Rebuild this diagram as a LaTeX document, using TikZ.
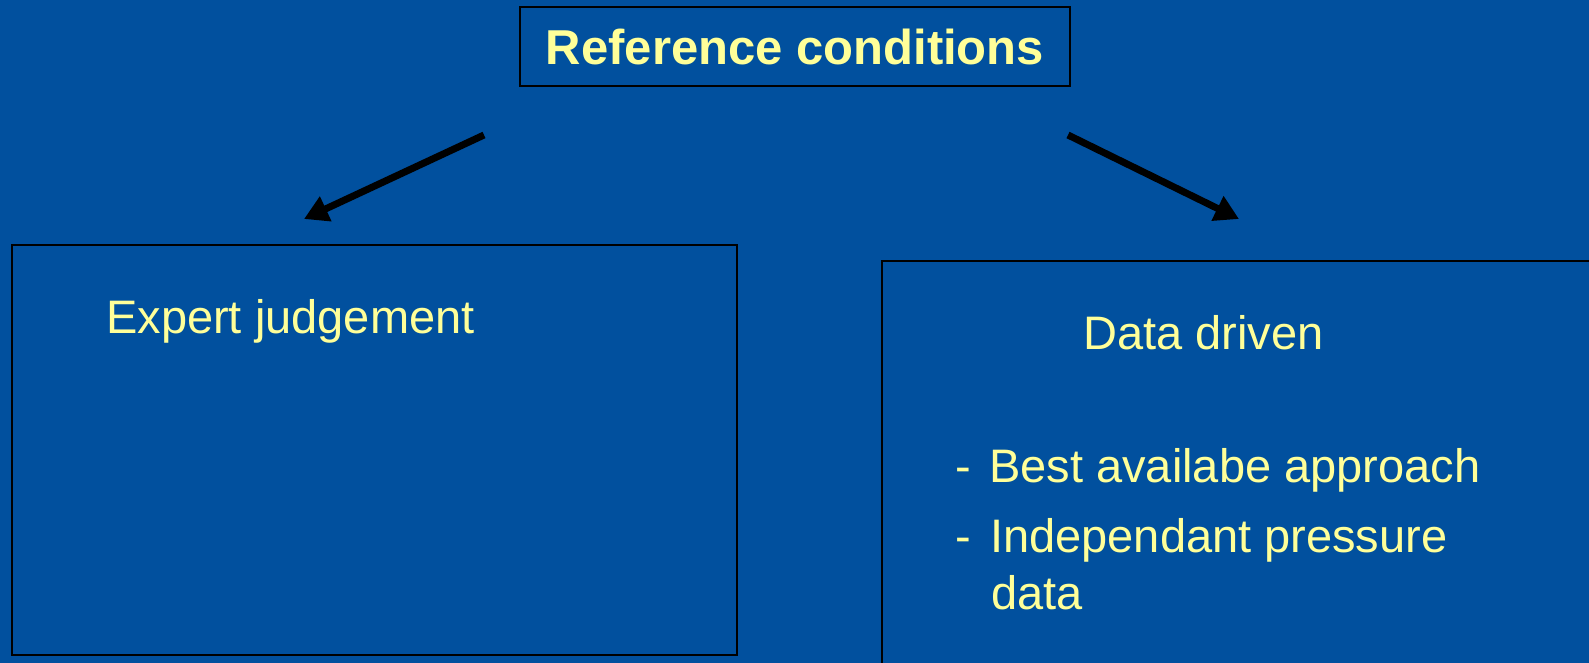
\documentclass[tikz,border=0pt]{standalone}
\usepackage{fontspec}
\setmainfont{Liberation Sans}
\usetikzlibrary{arrows.meta}
\definecolor{slidebg}{RGB}{1,80,158}
\definecolor{slidetxt}{RGB}{255,255,153}
\tikzset{
  boxframe/.style={draw=black, line width=2pt, fill=none, inner sep=0pt},
  txt/.style={text=slidetxt, inner sep=0pt, font=\fontsize{47}{56}\selectfont},
  ttl/.style={text=slidetxt, inner sep=0pt, font=\bfseries\fontsize{49}{58}\selectfont},
  bigarrow/.style={draw=black, line width=7pt, -{Triangle[length=24pt,width=26pt]}}
}
\begin{document}
\begin{tikzpicture}[x=1pt,y=-1pt]
\useasboundingbox (0,0) rectangle (1589,663);
\fill[slidebg] (0,0) rectangle (1589,663);
\clip (0,0) rectangle (1589,663);
% top box
\node[boxframe, minimum width=550pt, minimum height=79pt] (refbox) at (795,46.5) {};
\node[ttl, anchor=base] (reftxt) at (795,65) {Reference conditions};
% left box
\node[boxframe, minimum width=725pt, minimum height=410pt] (leftbox) at (374.5,450) {};
\node[txt, anchor=base west] (expert) at (106,333) {Expert judgement};
% right box
\node[boxframe, minimum width=740pt, minimum height=430pt] (rightbox) at (1252,476) {};
\node[txt, anchor=base west] (data) at (1083,349) {Data driven};
\node[txt, anchor=base west] (d1) at (955,482) {-};
\node[txt, anchor=base west] (b1) at (989,482) {Best availabe approach};
\node[txt, anchor=base west] (d2) at (955,552) {-};
\node[txt, anchor=base west] (b2) at (990,552) {Independant pressure};
\node[txt, anchor=base west] (b2b) at (991,609) {data};
% arrows
\coordinate (l0) at (484,135);
\coordinate (l1) at (304,219);
\coordinate (r0) at (1068,135);
\coordinate (r1) at (1239,219);
\draw[bigarrow] (l0) -- (l1);
\draw[bigarrow] (r0) -- (r1);
\end{tikzpicture}
\end{document}
